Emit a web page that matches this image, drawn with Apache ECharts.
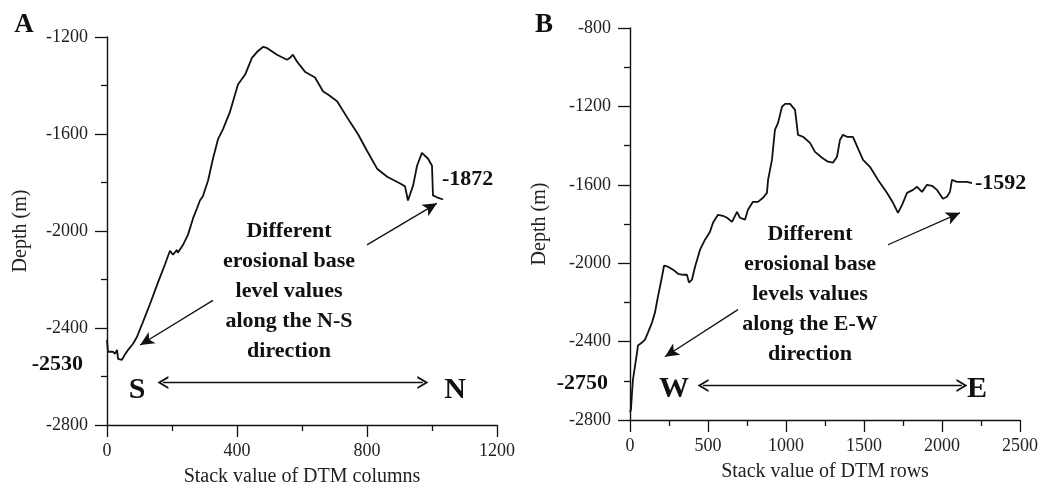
<!DOCTYPE html>
<html>
<head>
<meta charset="utf-8">
<script src="https://cdn.jsdelivr.net/npm/echarts@6/dist/echarts.min.js"></script>
<style>
html,body{margin:0;padding:0;background:#fff;}
#c{width:1047px;height:492px;}
</style>
</head>
<body>
<div id="c"></div>
<script>
// Panel A: N-S profile (stack value of DTM columns vs depth)
const aX = [0,3,18,25,31,34,46,55,65,80,92,108,132,157,178,188,194,203,215,218,234,249,265,277,286,295,311,326,342,357,378,403,425,446,462,480,492,523,554,563,572,585,609,640,665,680,708,748,772,800,831,862,902,917,926,942,954,969,988,1000,1003,1015,1034];
const aY = [-2449,-2498,-2498,-2506,-2490,-2527,-2531,-2510,-2490,-2465,-2437,-2384,-2302,-2212,-2139,-2102,-2082,-2098,-2078,-2090,-2057,-2016,-1947,-1906,-1874,-1857,-1792,-1702,-1620,-1580,-1510,-1396,-1355,-1286,-1261,-1241,-1245,-1273,-1294,-1286,-1273,-1302,-1343,-1367,-1425,-1437,-1465,-1551,-1600,-1669,-1743,-1776,-1804,-1816,-1874,-1812,-1731,-1678,-1702,-1731,-1853,-1861,-1870];

// Panel B: E-W profile (stack value of DTM rows vs depth)
const bX = [0,6,13,19,45,51,77,96,115,141,160,179,205,218,244,276,308,340,365,378,397,417,449,481,513,532,564,596,622,654,686,692,705,737,756,788,820,853,878,885,910,929,949,974,994,1026,1058,1077,1109,1154,1186,1231,1269,1301,1327,1346,1365,1391,1429,1474,1494,1538,1590,1647,1686,1718,1744,1776,1814,1840,1872,1904,1936,1968,2006,2032,2051,2064,2096,2115,2160,2192];
const bY = [-2760,-2747,-2660,-2594,-2456,-2420,-2405,-2390,-2354,-2303,-2252,-2171,-2069,-2013,-2018,-2033,-2054,-2059,-2059,-2099,-2084,-2018,-1931,-1880,-1840,-1794,-1753,-1758,-1768,-1789,-1738,-1733,-1768,-1778,-1727,-1687,-1687,-1666,-1641,-1575,-1473,-1320,-1284,-1203,-1187,-1187,-1218,-1345,-1355,-1386,-1432,-1462,-1482,-1487,-1457,-1371,-1345,-1355,-1355,-1437,-1473,-1508,-1575,-1641,-1692,-1743,-1702,-1641,-1626,-1610,-1636,-1600,-1605,-1626,-1671,-1661,-1636,-1575,-1585,-1585,-1585,-1592];

// Axis tick settings
const aXTicks = {min: 0, max: 1200, interval: 400};
const aYTicks = {min: -2800, max: -1200, interval: 400};
const bXTicks = {min: 0, max: 2500, interval: 500};
const bYTicks = {min: -2800, max: -800, interval: 400};

// Annotation arrows (data coordinates): [x1, y1, x2, y2]
const aArrows = [[326,-2286,102,-2470],[800,-2057,1015,-1886]];
const aDouble = [172,-2625,972,-2625];
const bArrows = [[692,-2237,224,-2477],[1654,-1906,2115,-1743]];
const bDouble = [468,-2624,2128,-2624];

const SERIF = "'Liberation Serif','Times New Roman',serif";
const chevron = 'path://M0,10 L5,0 L10,10 L8.4,10 L5,3.2 L1.6,10 Z';

function pairs(xs, ys){ return xs.map((x,i)=>[x, ys[i]]); }
const plain = v => String(v);

function xAxisCfg(ticks, name, gi){
  return {
    type:'value', gridIndex:gi, min:ticks.min, max:ticks.max, interval:ticks.interval,
    name:name, nameLocation:'middle', nameGap:42,
    nameTextStyle:{fontFamily:SERIF, fontSize:20, color:'#222'},
    axisLine:{show:true, onZero:false, lineStyle:{color:'#111', width:1.4}},
    axisTick:{show:true, length:12, lineStyle:{color:'#111', width:1.3}},
    minorTick:{show:true, splitNumber:2, length:6, lineStyle:{color:'#111', width:1.3}},
    axisLabel:{fontFamily:SERIF, fontSize:18, color:'#222', margin:17, formatter:plain},
    splitLine:{show:false}
  };
}
function yAxisCfg(ticks, name, gi, gap){
  return {
    type:'value', gridIndex:gi, min:ticks.min, max:ticks.max, interval:ticks.interval,
    name:name, nameLocation:'middle', nameGap:gap,
    nameTextStyle:{fontFamily:SERIF, fontSize:20, color:'#222'},
    axisLine:{show:true, onZero:false, lineStyle:{color:'#111', width:1.4}},
    axisTick:{show:true, length:12, lineStyle:{color:'#111', width:1.3}},
    minorTick:{show:true, splitNumber:2, length:6, lineStyle:{color:'#111', width:1.3}},
    axisLabel:{fontFamily:SERIF, fontSize:18, color:'#222', margin:19, formatter:plain},
    splitLine:{show:false}
  };
}
function arrowLines(arrs, dbl){
  const d = arrs.map(a=>[
    {coord:[a[0],a[1]], symbol:'none'},
    {coord:[a[2],a[3]], symbol:'arrow', symbolSize:[10,14]}
  ]);
  d.push([
    {coord:[dbl[0],dbl[1]], symbol:chevron, symbolSize:[13,11]},
    {coord:[dbl[2],dbl[3]], symbol:chevron, symbolSize:[13,11]}
  ]);
  return {
    silent:true, animation:false,
    lineStyle:{color:'#111', width:1.3, type:'solid'},
    label:{show:false},
    data:d
  };
}

const chart = echarts.init(document.getElementById('c'), null, {renderer:'canvas'});
const boldText = (x,y,text,size,align)=>({
  type:'text', x:x, y:y,
  style:{text:text, font:'bold '+size+'px '+SERIF, fill:'#111', textAlign:align, textVerticalAlign:'middle'}
});

chart.setOption({
  animation:false,
  backgroundColor:'#fff',
  grid:[
    {left:107, top:37, width:390, height:391},
    {left:630, top:28, width:390, height:392}
  ],
  xAxis:[ xAxisCfg(aXTicks,'Stack value of DTM columns',0), xAxisCfg(bXTicks,'Stack value of DTM rows',1) ],
  yAxis:[ yAxisCfg(aYTicks,'Depth (m)',0,76), yAxisCfg(bYTicks,'Depth (m)',1,80) ],
  series:[
    {type:'line', xAxisIndex:0, yAxisIndex:0, data:pairs(aX,aY), showSymbol:false,
     lineStyle:{color:'#111', width:1.8}, markLine:arrowLines(aArrows,aDouble)},
    {type:'line', xAxisIndex:1, yAxisIndex:1, data:pairs(bX,bY), showSymbol:false,
     lineStyle:{color:'#111', width:1.8}, markLine:arrowLines(bArrows,bDouble)}
  ],
  graphic:[
    boldText(24,25,'A',27,'center'),
    boldText(544,25,'B',27,'center'),
    boldText(442,179,'-1872',22,'left'),
    boldText(975,183,'-1592',22,'left'),
    boldText(83,364,'-2530',22,'right'),
    boldText(608,383,'-2750',22,'right'),
    boldText(137,390,'S',30,'center'),
    boldText(455,390,'N',30,'center'),
    boldText(674,389,'W',30,'center'),
    boldText(977,389,'E',30,'center'),
    {type:'text', x:289, y:216, style:{text:'Different\nerosional base\nlevel values\nalong the N-S\ndirection',
      font:'bold 22px '+SERIF, fill:'#111', textAlign:'center', lineHeight:30}},
    {type:'text', x:810, y:219, style:{text:'Different\nerosional base\nlevels values\nalong the E-W\ndirection',
      font:'bold 22px '+SERIF, fill:'#111', textAlign:'center', lineHeight:30}}
  ]
});
</script>
</body>
</html>
